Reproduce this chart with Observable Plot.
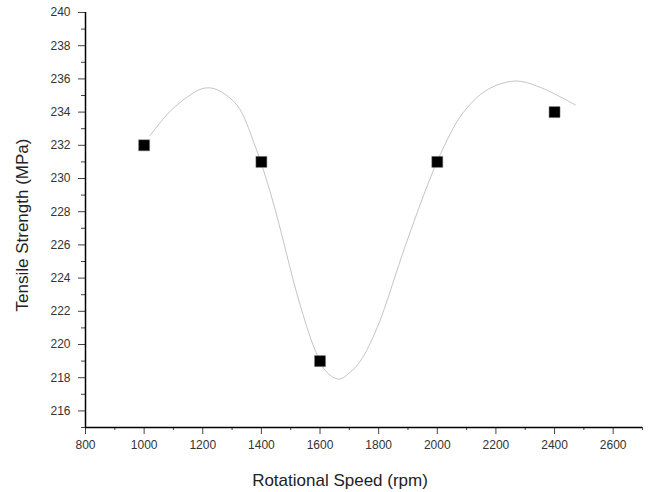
<!DOCTYPE html>
<html>
<head>
<meta charset="utf-8">
<script src="https://cdn.jsdelivr.net/npm/d3@7"></script>
<script src="https://cdn.jsdelivr.net/npm/@observablehq/plot@0.6"></script>
<style>
  html, body { margin: 0; padding: 0; background: #fff; }
</style>
</head>
<body>
<div id="chart"></div>
<script>
// Measured points
const speed = [1000, 1400, 1600, 2000, 2400];
const strength = [232, 231, 219, 231, 234];

// Fitted curve
const curveX = [1020, 1091, 1182, 1216, 1250, 1318, 1380, 1437, 1528, 1582, 1619, 1664, 1704, 1738, 1795, 1891, 1963, 2011, 2085, 2170, 2266, 2351, 2471];
const curveY = [232.58, 234.09, 235.30, 235.46, 235.34, 234.39, 231.88, 228.76, 222.63, 219.72, 218.41, 217.91, 218.35, 219.01, 221.02, 225.95, 229.43, 231.48, 233.89, 235.34, 235.87, 235.49, 234.43];

// Tick labels
const xMajor = [800, 1000, 1200, 1400, 1600, 1800, 2000, 2200, 2400, 2600];
const xMinor = [900, 1100, 1300, 1500, 1700, 1900, 2100, 2300, 2500, 2700];
const yMajor = [216, 218, 220, 222, 224, 226, 228, 230, 232, 234, 236, 238, 240];
const yMinor = [215, 217, 219, 221, 223, 225, 227, 229, 231, 233, 235, 237, 239];

const points = speed.map((s, i) => ({x: s, y: strength[i]}));
const curve = curveX.map((s, i) => ({x: s, y: curveY[i]}));

const chart = Plot.plot({
  width: 651,
  height: 492,
  marginLeft: 85,
  marginRight: 9,
  marginTop: 12,
  marginBottom: 65,
  style: {fontFamily: "'Liberation Sans', Arial, sans-serif", fontSize: "12px", color: "#333", background: "#fff"},
  x: {domain: [800, 2700]},
  y: {domain: [215, 240]},
  marks: [
    Plot.axisX({ticks: xMinor, tickSize: 3, text: null, label: null, stroke: "#444"}),
    Plot.axisX({ticks: xMajor, tickSize: 7, tickPadding: 6, tickFormat: d => String(d), label: "Rotational Speed (rpm)", labelAnchor: "center", labelArrow: "none", labelOffset: 58, fontSize: 12, stroke: "#444"}),
    Plot.axisY({ticks: yMinor, tickSize: 4, text: null, label: null, stroke: "#444"}),
    Plot.axisY({ticks: yMajor, tickSize: 7, tickPadding: 8, label: "Tensile Strength (MPa)", labelAnchor: "center", labelArrow: "none", labelOffset: 70, fontSize: 12, stroke: "#444"}),
    Plot.ruleX([800], {stroke: "#000", strokeWidth: 1.5}),
    Plot.ruleY([215], {stroke: "#000", strokeWidth: 1.5}),
    Plot.line(curve, {x: "x", y: "y", curve: "catmull-rom", stroke: "#aaa", strokeWidth: 0.7}),
    Plot.dot(points, {x: "x", y: "y", symbol: "square", r: 6.2, fill: "#000", stroke: "#777", strokeWidth: 0.5})
  ]
});

// enlarge axis titles and nudge them to the reference positions
chart.querySelectorAll("g[aria-label='x-axis label'] text").forEach(t => {
  t.style.fontSize = "17px";
  t.setAttribute("fill", "#222");
  t.setAttribute("dx", "-24");
});
chart.querySelectorAll("g[aria-label='y-axis label'] text").forEach(t => {
  t.style.fontSize = "17px";
  t.setAttribute("fill", "#222");
  t.setAttribute("dx", "-5");
});
document.getElementById("chart").appendChild(chart);
</script>
</body>
</html>
